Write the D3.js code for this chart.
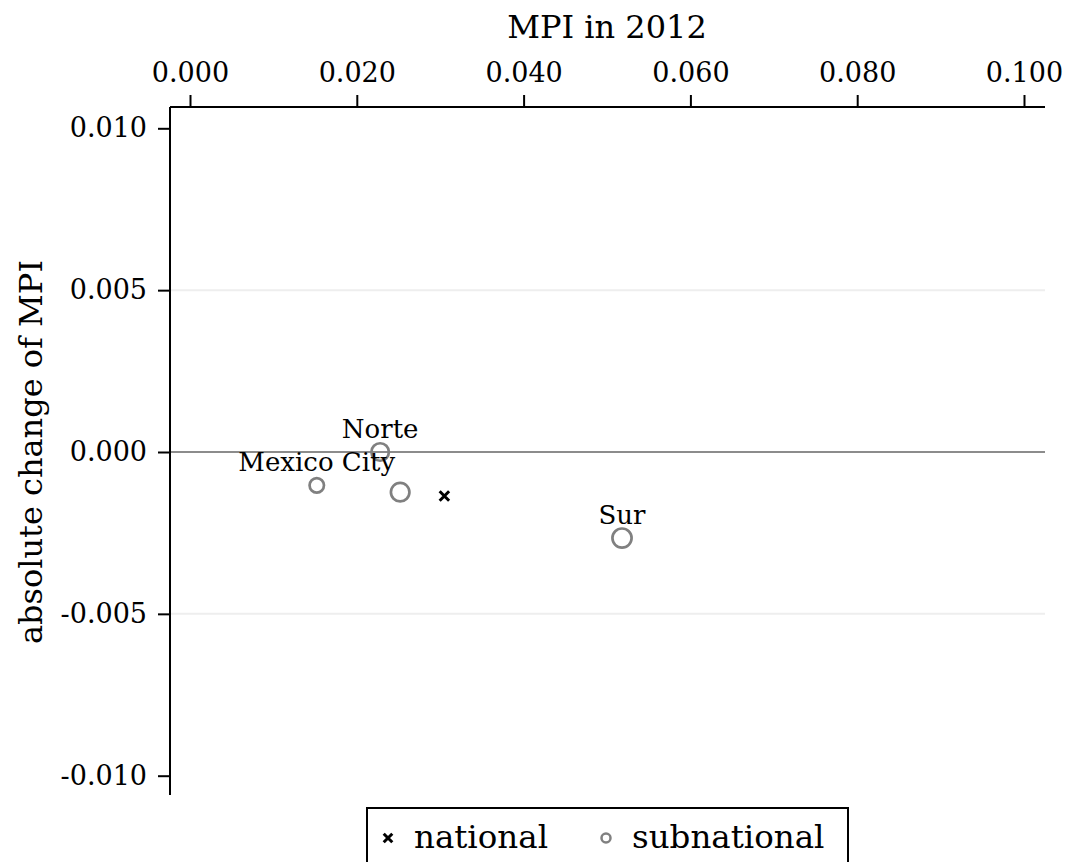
<!DOCTYPE html>
<html>
<head>
<meta charset="utf-8">
<script src="https://cdn.jsdelivr.net/npm/d3@7"></script>
<style>
  html, body { margin: 0; padding: 0; background: #fff; }
  svg text { font-family: "DejaVu Serif", serif; fill: #000; }
</style>
</head>
<body>
<svg id="chart" width="1066" height="862"></svg>
<script>
// Subnational regions: MPI level in 2012 and absolute change of MPI
const regionNames   = ["Mexico City", "Norte", "", "Sur"];
const regionMPI2012 = [0.0152, 0.0228, 0.0252, 0.0518];
const regionChange  = [-0.00103, 0.0000, -0.00124, -0.00266];
const regionPopShare = [0.17, 0.25, 0.28, 0.30];

// National aggregate
const nationalMPI2012 = [0.0305];
const nationalChange  = [-0.00136];

// Axis ticks
const xTicks = [0, 0.02, 0.04, 0.06, 0.08, 0.10];
const yTicks = [0.010, 0.005, 0.000, -0.005, -0.010];
const gridTicks = [0.005, -0.005];

const svg = d3.select("#chart");

const frame = { left: 170, right: 1045, top: 107, bottom: 795 };
const x = d3.scaleLinear().domain([0, 0.1]).range([190, 1024]);
const y = d3.scaleLinear().domain([-0.01, 0.01]).range([775.7, 128.3]);
const r = d3.scaleSqrt().domain([0, 1]).range([0, 17.5]);

const subnational = regionNames.map((name, i) => ({
  name, mpi: regionMPI2012[i], change: regionChange[i], pop: regionPopShare[i]
}));
const national = nationalMPI2012.map((m, i) => ({ mpi: m, change: nationalChange[i] }));

// Light grid lines
svg.append("g").selectAll("line").data(gridTicks).join("line")
  .attr("x1", frame.left).attr("x2", frame.right)
  .attr("y1", d => y(d)).attr("y2", d => y(d))
  .attr("stroke", "#eeeeee").attr("stroke-width", 2);

// Zero reference line
svg.append("line")
  .attr("x1", frame.left).attr("x2", frame.right)
  .attr("y1", y(0)).attr("y2", y(0))
  .attr("stroke", "#8c8c8c").attr("stroke-width", 2);

// Top x axis
const xAxis = d3.axisTop(x).tickValues(xTicks).tickFormat(d3.format(".3f"))
  .tickSizeInner(12).tickSizeOuter(0).tickPadding(13);
const gx = svg.append("g").attr("transform", `translate(0,${frame.top})`).call(xAxis);
gx.select(".domain").remove();
gx.append("line").attr("x1", frame.left).attr("x2", frame.right)
  .attr("stroke", "#000").attr("stroke-width", 2);
gx.selectAll(".tick line").attr("stroke", "#000").attr("stroke-width", 2);
gx.selectAll(".tick text").attr("font-size", 27).attr("font-family", "DejaVu Serif").attr("fill", "#000");

// Left y axis
const yAxis = d3.axisLeft(y).tickValues(yTicks).tickFormat(d3.format(".3f"))
  .tickSizeInner(12).tickSizeOuter(0).tickPadding(11);
const gy = svg.append("g").attr("transform", `translate(${frame.left},0)`).call(yAxis);
gy.select(".domain").remove();
gy.append("line").attr("y1", frame.top).attr("y2", frame.bottom)
  .attr("stroke", "#000").attr("stroke-width", 2);
gy.selectAll(".tick line").attr("stroke", "#000").attr("stroke-width", 2);
gy.selectAll(".tick text").attr("font-size", 27).attr("font-family", "DejaVu Serif").attr("fill", "#000")
  .text(d => d3.format(".3f")(d).replace("−", "-"));

// Axis titles
svg.append("text")
  .attr("x", (x(0) + x(0.1)) / 2).attr("y", 38)
  .attr("text-anchor", "middle").attr("font-size", 32)
  .text("MPI in 2012");

svg.append("text")
  .attr("transform", `translate(42,${y(0)}) rotate(-90)`)
  .attr("text-anchor", "middle").attr("font-size", 32)
  .text("absolute change of MPI");

// Subnational circles
svg.append("g").selectAll("circle").data(subnational).join("circle")
  .attr("cx", d => x(d.mpi)).attr("cy", d => y(d.change))
  .attr("r", d => r(d.pop))
  .attr("fill", "none").attr("stroke", "#808080").attr("stroke-width", 2.7);

// Region labels
svg.append("g").selectAll("text").data(subnational.filter(d => d.name)).join("text")
  .attr("x", d => x(d.mpi)).attr("y", d => y(d.change) - 14.5)
  .attr("text-anchor", "middle").attr("font-size", 26)
  .text(d => d.name);

// National marker
const cross = d3.symbol().type(d3.symbolX).size(60);
svg.append("g").selectAll("path").data(national).join("path")
  .attr("transform", d => `translate(${x(d.mpi)},${y(d.change)})`)
  .attr("d", cross)
  .attr("stroke", "#000").attr("stroke-width", 3).attr("fill", "none");

// Legend
const legend = svg.append("g");
legend.append("rect")
  .attr("x", 367).attr("y", 808).attr("width", 481).attr("height", 70)
  .attr("fill", "#fff").attr("stroke", "#000").attr("stroke-width", 2);
legend.append("path")
  .attr("transform", "translate(388,838)")
  .attr("d", d3.symbol().type(d3.symbolX).size(50))
  .attr("stroke", "#000").attr("stroke-width", 3).attr("fill", "none");
legend.append("text").attr("x", 414).attr("y", 848).attr("font-size", 32.5).text("national");
legend.append("circle").attr("cx", 606).attr("cy", 838).attr("r", 4.5)
  .attr("fill", "none").attr("stroke", "#808080").attr("stroke-width", 2.5);
legend.append("text").attr("x", 632).attr("y", 848).attr("font-size", 32.5).text("subnational");
</script>
</body>
</html>
